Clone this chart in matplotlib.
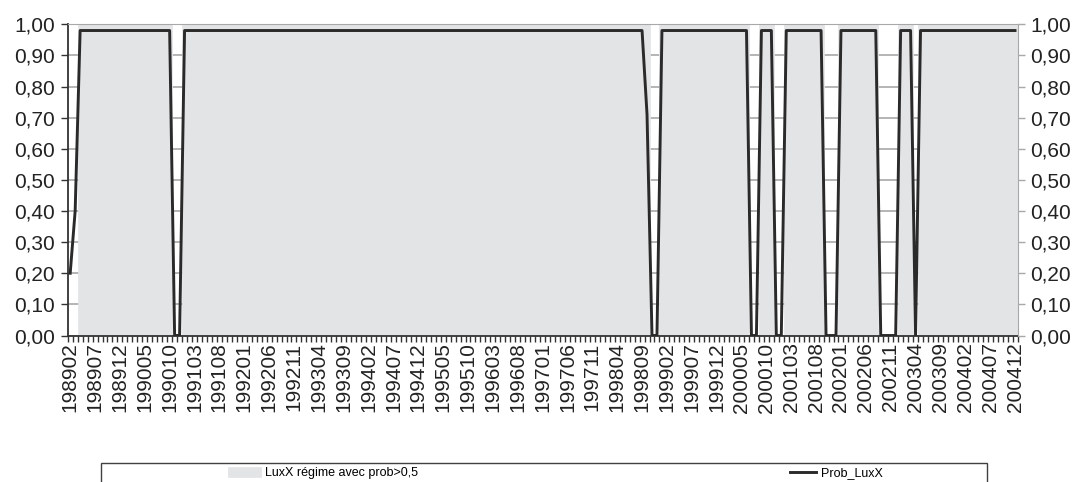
import numpy as np
import pandas as pd
import matplotlib
matplotlib.use("Agg")
import matplotlib.pyplot as plt
from matplotlib.patches import Rectangle
from matplotlib.ticker import FuncFormatter

plt.rcParams["font.family"] = ["Liberation Sans", "DejaVu Sans"]

# monthly categories 198902 .. 200412
months = pd.period_range("1989-02", "2004-12", freq="M").strftime("%Y%m").tolist()

# smoothed probability of the LuxX regime
prob_luxx = ([0.20, 0.40] + [0.98] * 19 + [0.00] * 2 + [0.98] * 93 + [0.71]
             + [0.00] * 2 + [0.98] * 18 + [0.00] * 2 + [0.98] * 3 + [0.00] * 2
             + [0.98] * 8 + [0.00] * 3 + [0.98] * 8 + [0.00] * 4 + [0.98] * 3
             + [0.00] + [0.98] * 20)

# shaded regime: months where prob > 0.5
regime = [1.0 if p > 0.5 else 0.0 for p in prob_luxx]

y_ticks = np.linspace(0, 1, 11)
comma = FuncFormatter(lambda v, _: f"{v:.2f}".replace(".", ","))

fill_c = "#E3E4E6"
line_c = "#2A2A2A"
grid_c = "#A8A8A8"
axis_c = "#333333"

W, H = 1077, 482
fig = plt.figure(figsize=(W / 100, H / 100), dpi=100)
ax = fig.add_axes([67.7 / W, 1 - 335.5 / H, (1017.5 - 67.7) / W, (335.5 - 24.3) / H])

x = np.arange(len(months))
bars = ax.bar(x, regime, width=1.0, color=fill_c, edgecolor=fill_c, linewidth=0.5,
              zorder=2, label="LuxX régime avec prob>0,5")
line, = ax.plot(x, prob_luxx, color=line_c, lw=2.1, zorder=3, label="Prob_LuxX")

ax.set_xlim(-0.5, len(months) - 0.5)
ax.set_ylim(0, 1)

ax.set_yticks(y_ticks)
ax.yaxis.set_major_formatter(comma)
ax.yaxis.grid(True, color=grid_c, lw=1.2)
ax.set_axisbelow(True)
ax.tick_params(axis="y", direction="out", length=5, width=1, color=axis_c,
               labelsize=15, labelcolor="#222222", pad=4)

ax.set_xticks(x[::5], labels=months[::5], rotation=90)
ax.set_xticks(np.arange(-0.5, len(months), 1), minor=True)
ax.tick_params(axis="x", which="major", length=0, labelsize=15, labelcolor="#222222", pad=5)
ax.tick_params(axis="x", which="minor", direction="out", length=4, width=1, color=axis_c)

ax.spines["left"].set_color(axis_c)
ax.spines["left"].set_linewidth(1.3)
ax.spines["bottom"].set_color(axis_c)
ax.spines["bottom"].set_linewidth(1.3)
ax.spines["top"].set_color(grid_c)
ax.spines["right"].set_visible(False)

ax2 = ax.twinx()
ax2.set_ylim(0, 1)
ax2.set_yticks(y_ticks)
ax2.yaxis.set_major_formatter(comma)
ax2.tick_params(axis="y", direction="out", length=5, width=1, color=grid_c,
                labelsize=15, labelcolor="#222222", pad=4)
for s in ["left", "top", "bottom"]:
    ax2.spines[s].set_visible(False)
ax2.spines["right"].set_color(grid_c)

# legend box (bottom is cut by the figure edge)
fig.patches.append(Rectangle((101 / W, -0.05), 886 / W, (H - 463) / H + 0.05,
                             transform=fig.transFigure, facecolor="none",
                             edgecolor="#404040", lw=1.0, clip_on=False))
leg_font = {"family": ["Liberation Sans Narrow", "Liberation Sans"], "size": 9}
fig.legend(handles=[bars], loc="center left", bbox_to_anchor=(228 / W, (H - 473) / H),
           frameon=False, prop=leg_font, handlelength=2.6, handleheight=0.9,
           handletextpad=0.35, borderpad=0, borderaxespad=0)
fig.legend(handles=[line], loc="center left", bbox_to_anchor=(790 / W, (H - 473) / H),
           frameon=False, prop=leg_font, handlelength=2.1, handletextpad=0.4,
           borderpad=0, borderaxespad=0)

fig.savefig("out.png", dpi=100)
